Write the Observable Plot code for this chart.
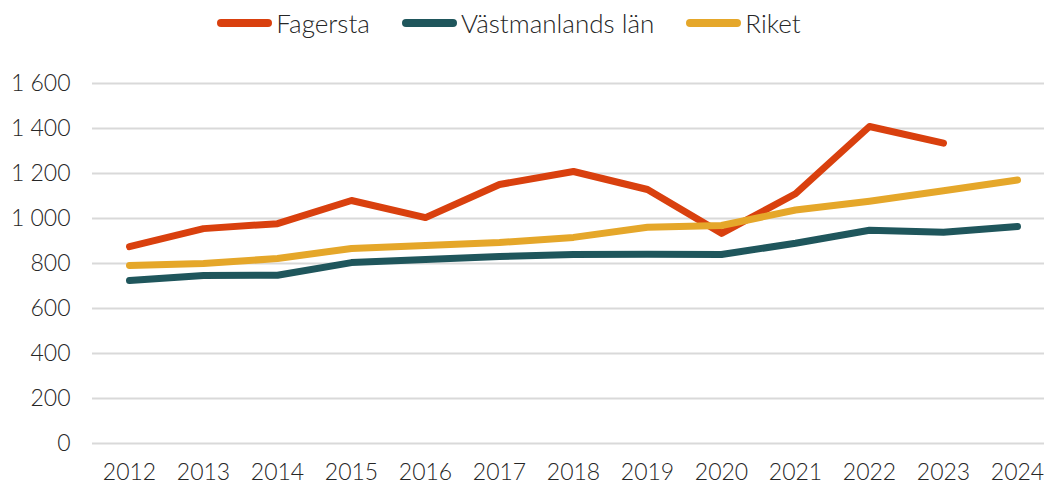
<!DOCTYPE html>
<html><head><meta charset="utf-8">
<script src="https://cdn.jsdelivr.net/npm/d3@7"></script>
<script src="https://cdn.jsdelivr.net/npm/@observablehq/plot@0.6"></script>
<style>
body{margin:0;background:#fff;font-family:Lato,"Open Sans",sans-serif;font-weight:300;color:#262626;}
#legend{height:46px;display:flex;align-items:center;justify-content:center;font-size:26px;padding-right:26px;}
.item{display:flex;align-items:center;margin:0 16px;}
.sw{width:55px;height:8px;border-radius:4px;margin-right:4px;}
</style></head><body>
<div id="legend"></div>
<div id="chart"></div>
<script>
const years = [2012,2013,2014,2015,2016,2017,2018,2019,2020,2021,2022,2023,2024];
const seriesNames = ["Fagersta","Västmanlands län","Riket"];
const fagersta = [875,955,977,1080,1004,1151,1209,1129,934,1110,1409,1335,null];
const vastmanland = [724,747,748,804,818,831,840,841,840,890,948,939,964];
const riket = [791,800,822,867,880,893,916,961,969,1038,1077,1123,1171];
const colors = ["#D9400E","#1F565C","#E5A72A"];
const yTicks = [0,200,400,600,800,1000,1200,1400,1600];

const rows = [];
[fagersta, vastmanland, riket].forEach((arr, i) => {
  years.forEach((y, j) => { if (arr[j] != null) rows.push({year: y, value: arr[j], series: seriesNames[i]}); });
});

const fmt = d => d >= 1000 ? Math.floor(d/1000) + " " + String(d % 1000).padStart(3, "0") : String(d);

const legend = document.getElementById("legend");
seriesNames.forEach((n, i) => {
  const it = document.createElement("div"); it.className = "item";
  it.innerHTML = `<div class="sw" style="background:${colors[i]}"></div><span>${n}</span>`;
  legend.appendChild(it);
});

const drawOrder = ["Västmanlands län","Fagersta","Riket"];
const chart = Plot.plot({
  width: 1044, height: 438,
  marginLeft: 92, marginRight: 0, marginTop: 37, marginBottom: 41,
  style: {fontFamily: "Lato, 'Open Sans', sans-serif", fontWeight: 300, fontSize: "23px", color: "#262626", background: "#fff"},
  x: {domain: [2011.5, 2024.365], label: null},
  y: {domain: [0, 1600], label: null},
  color: {domain: seriesNames, range: colors},
  marks: [
    Plot.ruleY(yTicks, {stroke: "#d9d9d9", strokeWidth: 2}),
    ...drawOrder.map(s => Plot.line(rows.filter(r => r.series === s), {x: "year", y: "value", stroke: "series", strokeWidth: 7, strokeLinecap: "round", strokeLinejoin: "round"})),
    Plot.axisX({ticks: years, tickFormat: d => String(d), tickSize: 0, tickPadding: 20, fontSize: 23}),
    Plot.axisY({ticks: yTicks, tickFormat: fmt, tickSize: 0, tickPadding: 22, fontSize: 23})
  ]
});
document.getElementById("chart").appendChild(chart);
</script>
</body></html>
